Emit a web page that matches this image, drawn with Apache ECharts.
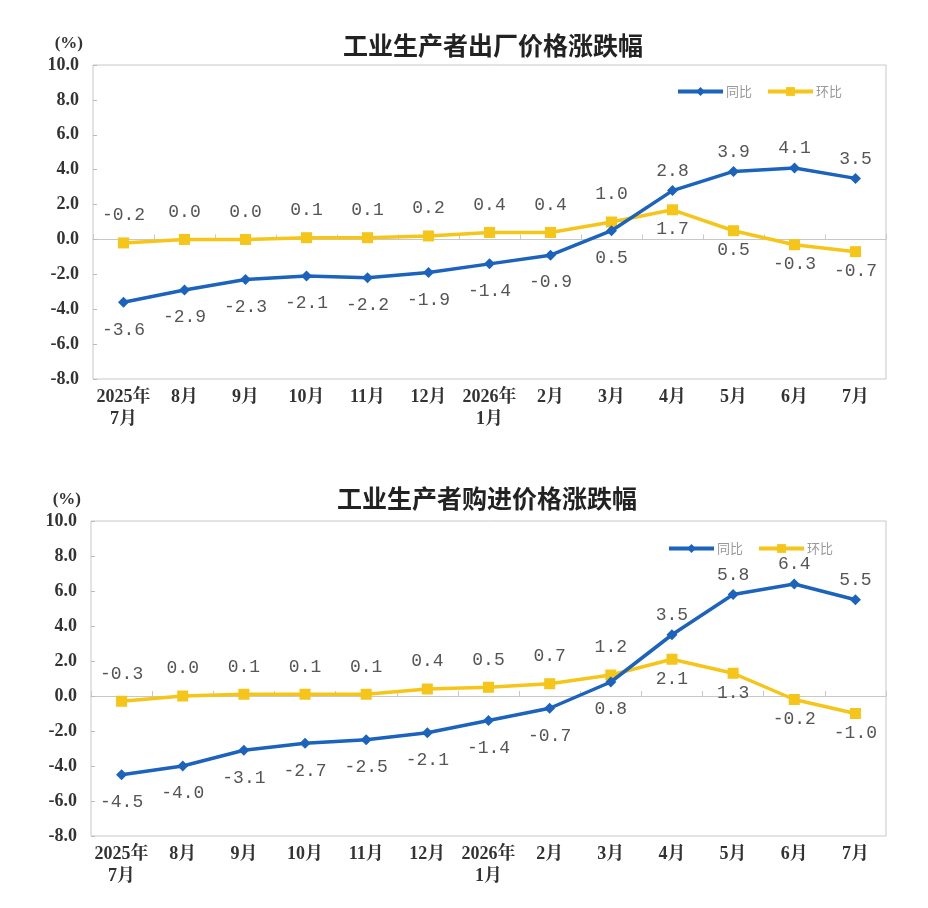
<!DOCTYPE html>
<html>
<head>
<meta charset="utf-8">
<script src="https://cdn.jsdelivr.net/npm/echarts@6/dist/echarts.min.js"></script>
<style>
  html, body { margin: 0; padding: 0; background: #fff; }
  #chart { width: 928px; height: 908px; }
</style>
</head>
<body>
<div id="chart"></div>
<script>
// 月份
const months = ['2025年\n7月', '8月', '9月', '10月', '11月', '12月', '2026年\n1月', '2月', '3月', '4月', '5月', '6月', '7月'];

// 工业生产者出厂价格
const ppiYoY = [-3.6, -2.9, -2.3, -2.1, -2.2, -1.9, -1.4, -0.9, 0.5, 2.8, 3.9, 4.1, 3.5];
const ppiMoM = [-0.2, 0.0, 0.0, 0.1, 0.1, 0.2, 0.4, 0.4, 1.0, 1.7, 0.5, -0.3, -0.7];

// 工业生产者购进价格
const purYoY = [-4.5, -4.0, -3.1, -2.7, -2.5, -2.1, -1.4, -0.7, 0.8, 3.5, 5.8, 6.4, 5.5];
const purMoM = [-0.3, 0.0, 0.1, 0.1, 0.1, 0.4, 0.5, 0.7, 1.2, 2.1, 1.3, -0.2, -1.0];

const yMin = -8, yMax = 10, yStep = 2;
const titles = ['工业生产者出厂价格涨跌幅', '工业生产者购进价格涨跌幅'];

const BLUE = '#1b63bd';
const YELLOW = '#f6c51a';
const serif = '"Liberation Serif", "Noto Serif CJK SC", "Noto Sans CJK SC", serif';
const cjk = '"Noto Sans CJK SC", sans-serif';

const chart = echarts.init(document.getElementById('chart'));

const grids = [
  { left: 93, top: 65, width: 793, height: 314 },
  { left: 91, top: 521, width: 795, height: 315 }
];

// 高的那条线标签放上面，低的放下面
function withLabels(vals, other) {
  return vals.map((v, i) => ({
    value: v,
    label: {
      position: v >= other[i] ? 'top' : 'bottom',
      distance: i < 9 ? 13 : 5
    }
  }));
}

const labelStyle = {
  show: true,
  fontFamily: '"Liberation Mono", "DejaVu Sans Mono", monospace',
  fontSize: 18,
  color: '#555',
  formatter: p => p.value.toFixed(1)
};

const xAxes = [], yAxes = [], series = [], legends = [], titleList = [];

grids.forEach((g, k) => {
  xAxes.push({
    type: 'category',
    gridIndex: k,
    data: months,
    boundaryGap: true,
    position: 'bottom',
    axisLine: { show: false, onZero: false },
    axisTick: { show: false },
    axisLabel: {
      fontFamily: serif,
      fontWeight: 'bold',
      fontSize: 18,
      color: '#333',
      lineHeight: 22,
      margin: 7,
      interval: 0
    }
  });
  xAxes.push({
    type: 'category',
    gridIndex: k,
    data: months,
    boundaryGap: true,
    position: 'bottom',
    axisLine: { show: true, onZero: true, lineStyle: { color: '#c8c8c8', width: 1 } },
    axisTick: { show: true, inside: true, length: 5, lineStyle: { color: '#c8c8c8' } },
    axisLabel: { show: false }
  });
  yAxes.push({
    type: 'value',
    gridIndex: k,
    min: yMin,
    max: yMax,
    interval: yStep,
    name: '(%)',
    nameLocation: 'end',
    nameGap: 13,
    nameTextStyle: {
      fontFamily: serif,
      fontWeight: 'bold',
      fontSize: 17,
      color: '#333',
      align: 'right',
      padding: [0, 10, 0, 0]
    },
    axisLine: { show: false },
    axisTick: { show: true, inside: true, length: 4, lineStyle: { color: '#bbb' } },
    splitLine: { show: false },
    axisLabel: {
      fontFamily: serif,
      fontWeight: 'bold',
      fontSize: 18,
      color: '#333',
      margin: 14,
      formatter: v => v.toFixed(1)
    }
  });
  titleList.push({
    text: titles[k],
    left: k === 0 ? 338 : 332,
    top: k === 0 ? 28 : 481,
    textStyle: { fontFamily: cjk, fontWeight: 'bold', fontSize: 25, color: '#222' }
  });
  legends.push({
    data: ['同比', '环比'],
    left: k === 0 ? 671 : 662,
    top: k === 0 ? 80 : 537,
    itemWidth: 45,
    itemHeight: 11,
    itemGap: 14,
    lineStyle: { width: 4 },
    textStyle: { fontFamily: cjk, fontSize: 13, color: '#999', padding: [0, 0, 0, -2] }
  });
});

const sets = [[ppiYoY, ppiMoM], [purYoY, purMoM]];
sets.forEach(([yoy, mom], k) => {
  series.push({
    name: '同比',
    type: 'line',
    xAxisIndex: k * 2,
    yAxisIndex: k,
    data: withLabels(yoy, mom),
    symbol: 'diamond',
    symbolSize: 11,
    lineStyle: { color: BLUE, width: 3.5 },
    itemStyle: { color: BLUE },
    label: labelStyle,
    z: 3
  });
  series.push({
    name: '环比',
    type: 'line',
    xAxisIndex: k * 2,
    yAxisIndex: k,
    data: withLabels(mom, yoy),
    symbol: 'rect',
    symbolSize: 11,
    lineStyle: { color: YELLOW, width: 3.5 },
    itemStyle: { color: YELLOW },
    label: labelStyle,
    z: 2
  });
});

chart.setOption({
  animation: false,
  backgroundColor: '#fff',
  title: titleList,
  legend: legends,
  grid: grids.map(g => Object.assign({ show: true, borderColor: '#c8c8c8', borderWidth: 1, containLabel: false }, g)),
  xAxis: xAxes,
  yAxis: yAxes,
  series: series
});
</script>
</body>
</html>
